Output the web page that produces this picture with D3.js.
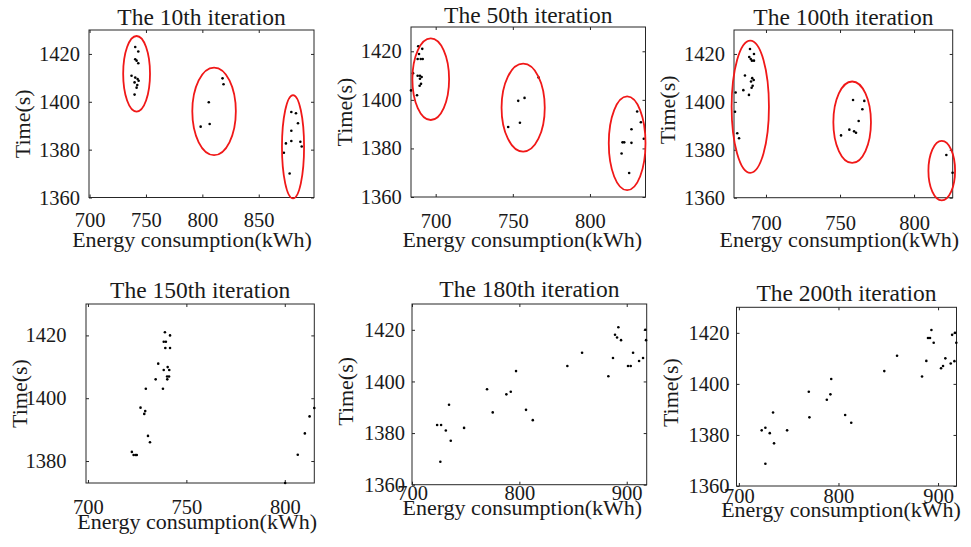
<!DOCTYPE html>
<html>
<head>
<meta charset="utf-8">
<script src="https://cdn.jsdelivr.net/npm/d3@7"></script>
<style>
body { margin: 0; background: #fff; }
svg text { font-family: "Liberation Serif", "Times New Roman", serif; fill: #1a1a1a; }
</style>
</head>
<body>
<div id="chart"></div>
<script>
// titles of the six panels
const titles = ["The 10th iteration", "The 50th iteration", "The 100th iteration",
  "The 150th iteration", "The 180th iteration", "The 200th iteration"];

// 10th iteration: energy (kWh) and time (s)
const it10Energy = [740.5, 743.2, 740.5, 741.7, 743.2, 737.2, 740.5, 742.6, 743.5, 739.9, 742.3, 741.7, 739.9,
  817.9, 818.8, 805.7, 798.5, 806.5,
  878.9, 883.0, 884.8, 878.9, 878.9, 874.1, 886.9, 888.1, 872.3, 877.4];
const it10Time = [1422.9, 1421.0, 1417.8, 1417.2, 1416.1, 1410.9, 1410.1, 1409.5, 1408.8, 1408.1, 1407.0, 1405.9, 1403.0,
  1409.8, 1407.3, 1399.8, 1389.6, 1390.7,
  1395.7, 1395.2, 1391.0, 1387.9, 1383.6, 1382.6, 1383.3, 1381.3, 1378.7, 1370.0];

// 50th iteration
const it50Energy = [688.7, 691.3, 689.2, 688.3, 690.3, 691.6, 685.3, 688.3, 689.8, 690.9, 689.8, 690.5, 689.6, 684.0, 687.9,
  766.7, 753.5, 757.6, 754.6, 747.0,
  830.6, 833.0, 826.9, 821.1, 822.2, 826.9, 834.9, 820.5, 825.4];
const it50Time = [1422.1, 1421.0, 1418.9, 1416.8, 1416.8, 1416.8, 1411.0, 1409.9, 1409.9, 1409.4, 1408.7, 1406.6, 1405.8, 1403.9, 1401.9,
  1409.2, 1399.6, 1400.8, 1390.6, 1388.8,
  1395.2, 1390.8, 1387.9, 1382.5, 1382.5, 1382.3, 1384.0, 1377.9, 1369.9];

// 100th iteration
const it100Energy = [689.2, 691.9, 688.7, 689.7, 690.5, 691.9, 685.8, 690.7, 691.7, 689.9, 691.0, 690.3, 684.7, 688.5, 679.5, 679.1, 680.6, 681.8,
  758.8, 766.4, 765.1, 762.6, 756.3, 759.5, 760.8, 750.7,
  821.8, 826.0];
const it100Time = [1422.1, 1420.0, 1418.7, 1417.9, 1417.2, 1417.2, 1411.0, 1409.9, 1409.1, 1408.5, 1406.7, 1405.9, 1404.9, 1402.9, 1403.9, 1395.9, 1386.9, 1384.8,
  1400.8, 1400.4, 1396.9, 1392.0, 1388.4, 1387.7, 1387.1, 1386.0,
  1377.8, 1370.4];

// 150th iteration
const it150Energy = [739.1, 741.7, 738.5, 739.6, 739.3, 741.7, 735.7, 738.5, 740.5, 741.3, 740.2, 741.2, 740.3, 734.4, 729.4,
  738.1, 726.7, 729.1, 728.6, 730.5, 731.5, 722.3, 723.2, 724.2, 724.8, 806.6, 810.2, 812.6, 815.0, 800.2];
const it150Time = [1421.0, 1420.0, 1418.0, 1418.0, 1416.0, 1416.0, 1411.0, 1409.0, 1409.9, 1409.0, 1406.9, 1406.9, 1406.0, 1406.0, 1403.0,
  1403.0, 1397.0, 1395.9, 1395.0, 1388.0, 1386.0, 1382.9, 1381.9, 1381.9, 1381.9, 1382.0, 1388.8, 1394.2, 1396.9, 1373.0];

// 180th iteration
const it180Energy = [723.4, 727.1, 731.5, 736.1, 734.5, 726.4, 748.5, 769.9, 775.2, 787.9, 792.0, 796.9, 806.2, 812.5, 844.7,
  858.4, 882.9, 887.2, 889.1, 891.0, 892.2, 894.7, 901.2, 903.7, 905.9, 911.5, 915.2, 917.3, 918.0];
const it180Time = [1383.1, 1383.1, 1381.0, 1377.0, 1391.0, 1368.9, 1382.0, 1397.0, 1388.0, 1395.0, 1396.0, 1404.0, 1389.0, 1385.0, 1406.0,
  1411.1, 1402.0, 1409.1, 1418.1, 1417.0, 1421.0, 1416.0, 1406.0, 1406.0, 1411.1, 1407.9, 1409.1, 1420.0, 1416.0];

// 200th iteration
const it200Energy = [722.9, 726.6, 731.0, 735.3, 734.3, 726.6, 748.4, 770.2, 770.8, 788.3, 791.9, 792.7, 806.7, 812.8, 846.0,
  858.8, 883.9, 888.2, 889.9, 891.9, 893.3, 895.6, 903.0, 905.0, 907.3, 912.7, 916.4, 914.1, 918.3, 917.0];
const it200Time = [1381.8, 1382.8, 1380.7, 1376.7, 1388.8, 1368.7, 1381.8, 1396.9, 1386.9, 1393.8, 1395.9, 1401.9, 1387.8, 1384.8, 1405.0,
  1411.0, 1402.9, 1409.0, 1418.0, 1418.0, 1421.1, 1416.1, 1406.1, 1407.0, 1410.0, 1408.0, 1408.9, 1419.2, 1416.1, 1420.0];

// red rings round the clusters: centre energy, centre time, half width (kWh), half height (s)
const it10Rings = [[741.7, 1411.7, 11.9, 15.8], [810.4, 1396.0, 19.3, 18.3], [880.4, 1381.2, 9.8, 21.6]];
const it50Rings = [[696.8, 1408.5, 11.9, 16.8], [756.7, 1396.8, 14.0, 18.1], [824.1, 1382.1, 11.9, 19.3]];
const it100Rings = [[689.4, 1398.0, 12.6, 27.6], [758.2, 1391.5, 12.7, 17.0], [818.7, 1371.3, 9.0, 12.4]];

// axis limits and ticks
const xLimits = [[699.5, 899], [684, 836], [678.4, 826.1], [699, 815], [700, 918.6], [697.6, 918.5]];
const yLimits = [[1360, 1430], [1360, 1430], [1360, 1430], [1373, 1430], [1360, 1430], [1360, 1430]];
const xTicks = [[700, 750, 800, 850], [700, 750, 800], [700, 750, 800], [700, 750, 800], [700, 800, 900], [700, 800, 900]];
const yTicks = [[1360, 1380, 1400, 1420], [1360, 1380, 1400, 1420], [1360, 1380, 1400, 1420],
  [1380, 1400, 1420], [1360, 1380, 1400, 1420], [1360, 1380, 1400, 1420]];

const energy = [it10Energy, it50Energy, it100Energy, it150Energy, it180Energy, it200Energy];
const time = [it10Time, it50Time, it100Time, it150Time, it180Time, it200Time];
const rings = [it10Rings, it50Rings, it100Rings, [], [], []];

// panel boxes (px) and text offsets
const layout = [
  {l: 89, t: 30, r: 314, b: 197.5, xt: 29, xl: 49.5, xs: -9.5, yt: 9, yl: 10, tt: 5},
  {l: 411, t: 27, r: 645.5, b: 197, xt: 31, xl: 50, xs: -6, yt: 9.3, yl: 0, tt: 3.7},
  {l: 734, t: 30, r: 952.7, b: 197.7, xt: 32, xl: 49.3, xs: -4, yt: 9, yl: -4, tt: 5},
  {l: 86, t: 304, r: 314.3, b: 483, xt: 30.5, xl: 45.5, xs: -3, yt: 19.5, yl: 0, tt: 6},
  {l: 412, t: 304, r: 646.7, b: 484.7, xt: 15, xl: 29.8, xs: -7, yt: 7, yl: -3, tt: 7},
  {l: 736.5, t: 307.3, r: 956.5, b: 486, xt: 16.7, xl: 31.3, xs: -5.5, yt: 7, yl: -4, tt: 6.3}
];

const fmt = d3.format("d");

const svg = d3.select("#chart")
  .append("svg")
  .attr("width", 971)
  .attr("height", 547);

layout.forEach(function(L, i) {
  const x = d3.scaleLinear().domain(xLimits[i]).range([L.l, L.r]);
  const y = d3.scaleLinear().domain(yLimits[i]).range([L.b, L.t]);
  const g = svg.append("g");

  // tick marks on all four sides, pointing inwards
  const styleAxis = function(a) {
    a.attr("font-size", null).attr("font-family", null).attr("color", "#262626");
    a.select(".domain").remove();
  };

  const bottom = g.append("g")
    .attr("transform", `translate(0, ${L.b})`)
    .call(d3.axisBottom(x).tickValues(xTicks[i]).tickFormat(fmt).tickSizeInner(-3).tickSizeOuter(0))
    .call(styleAxis);
  bottom.selectAll("text")
    .attr("dy", null)
    .attr("y", L.xt)
    .style("font-size", "20.5px");

  const left = g.append("g")
    .attr("transform", `translate(${L.l}, 0)`)
    .call(d3.axisLeft(y).tickValues(yTicks[i]).tickFormat(fmt).tickSizeInner(-3).tickSizeOuter(0).tickPadding(L.yt))
    .call(styleAxis);
  left.selectAll("text").style("font-size", "20.5px");

  g.append("g")
    .attr("transform", `translate(0, ${L.t})`)
    .call(d3.axisTop(x).tickValues(xTicks[i]).tickSizeInner(-3).tickSizeOuter(0).tickFormat(""))
    .call(styleAxis);
  g.append("g")
    .attr("transform", `translate(${L.r}, 0)`)
    .call(d3.axisRight(y).tickValues(yTicks[i]).tickSizeInner(-3).tickSizeOuter(0).tickFormat(""))
    .call(styleAxis);

  // box
  g.append("rect")
    .attr("x", L.l)
    .attr("y", L.t)
    .attr("width", L.r - L.l)
    .attr("height", L.b - L.t)
    .attr("fill", "none")
    .attr("stroke", "#262626")
    .attr("stroke-width", 1);

  // points
  g.selectAll("circle.pt")
    .data(d3.range(energy[i].length))
    .join("circle")
    .attr("class", "pt")
    .attr("cx", function(k) { return x(energy[i][k]); })
    .attr("cy", function(k) { return y(time[i][k]); })
    .attr("r", 1.3)
    .attr("fill", "#000");

  // red rings
  g.selectAll("ellipse")
    .data(rings[i])
    .join("ellipse")
    .attr("cx", function(d) { return x(d[0]); })
    .attr("cy", function(d) { return y(d[1]); })
    .attr("rx", function(d) { return x(d[0] + d[2]) - x(d[0]); })
    .attr("ry", function(d) { return y(d[1] - d[3]) - y(d[1]); })
    .attr("fill", "none")
    .attr("stroke", "#f01818")
    .attr("stroke-width", 1.8);

  // title
  g.append("text")
    .attr("x", (L.l + L.r) / 2)
    .attr("y", L.t - L.tt)
    .attr("text-anchor", "middle")
    .style("font-size", "23.5px")
    .text(titles[i]);

  // axis labels
  g.append("text")
    .attr("x", (L.l + L.r) / 2 + L.xs)
    .attr("y", L.b + L.xl)
    .attr("text-anchor", "middle")
    .style("font-size", "22px")
    .text("Energy consumption(kWh)");

  g.append("text")
    .attr("transform", `translate(${L.l - 59}, ${(L.t + L.b) / 2 + L.yl}) rotate(-90)`)
    .attr("text-anchor", "middle")
    .style("font-size", "22px")
    .text("Time(s)");
});
</script>
</body>
</html>
